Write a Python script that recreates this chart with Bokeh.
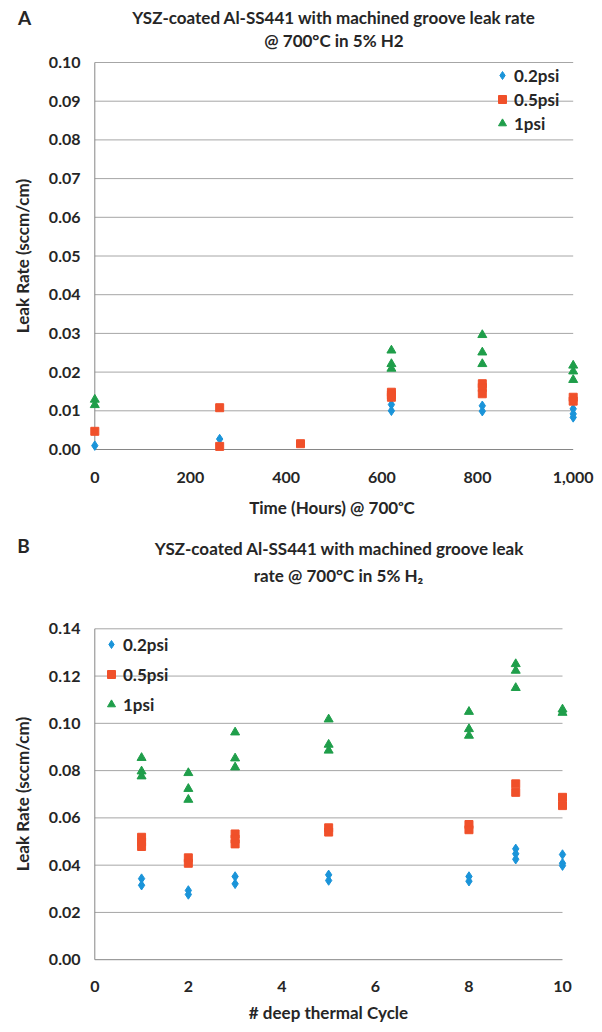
from bokeh.plotting import figure
from bokeh.models import (Range1d, FixedTicker, NumeralTickFormatter, Legend,
                          LegendItem)
from bokeh.core.properties import value
from bokeh.layouts import column
from bokeh.embed import file_html
from bokeh.resources import INLINE

# ---------------- data : panel A ----------------
a_time_02 = [0, 261, 620, 620, 810, 810, 1000, 1000, 1000]
a_rate_02 = [0.0010, 0.0027, 0.0116, 0.0100, 0.0113, 0.0099, 0.0105, 0.0092, 0.0083]
a_time_05 = [0, 261, 261, 430, 620, 620, 620, 810, 810, 810, 1000, 1000]
a_rate_05 = [0.0047, 0.0108, 0.0008, 0.0015, 0.0148, 0.0141, 0.0135, 0.0170, 0.0160, 0.0144, 0.0135, 0.0125]
a_time_1 = [0, 0, 620, 620, 620, 810, 810, 810, 1000, 1000, 1000]
a_rate_1 = [0.0129, 0.0115, 0.0256, 0.0221, 0.0209, 0.0296, 0.0251, 0.0221, 0.0217, 0.0202, 0.0180]
a_xticks = [0, 200, 400, 600, 800, 1000]
a_yticks = [0.00, 0.01, 0.02, 0.03, 0.04, 0.05, 0.06, 0.07, 0.08, 0.09, 0.10]

# ---------------- data : panel B ----------------
b_cyc_02 = [1, 1, 2, 2, 3, 3, 5, 5, 8, 8, 9, 9, 9, 10, 10, 10]
b_rate_02 = [0.0343, 0.0315, 0.0293, 0.0276, 0.0352, 0.0321, 0.0359, 0.0335, 0.0352, 0.0332,
             0.0469, 0.0448, 0.0425, 0.0445, 0.0408, 0.0398]
b_cyc_05 = [1, 1, 1, 2, 2, 3, 3, 3, 5, 5, 8, 8, 9, 9, 10, 10]
b_rate_05 = [0.0518, 0.0498, 0.0479, 0.0431, 0.0408, 0.0532, 0.0510, 0.0490, 0.0558, 0.0540,
             0.0572, 0.0550, 0.0744, 0.0708, 0.0687, 0.0652]
b_cyc_1 = [1, 1, 1, 2, 2, 2, 3, 3, 3, 5, 5, 5, 8, 8, 8, 9, 9, 9, 10, 10]
b_rate_1 = [0.0854, 0.0797, 0.0776, 0.0790, 0.0723, 0.0677, 0.0962, 0.0852, 0.0814, 0.1017,
            0.0910, 0.0885, 0.1049, 0.0976, 0.0948, 0.1251, 0.1223, 0.1150, 0.1059, 0.1045]
b_xticks = [0, 2, 4, 6, 8, 10]
b_yticks = [0.00, 0.02, 0.04, 0.06, 0.08, 0.10, 0.12, 0.14]

series_labels = ["0.2psi", "0.5psi", "1psi"]

a_title = ["YSZ-coated Al-SS441 with machined groove leak rate", "@ 700\u00b0C in 5% H2"]
b_title = ["YSZ-coated Al-SS441 with machined groove leak", "rate @ 700\u00b0C in 5% H\u2082"]

# ---------------- style ----------------
FONT = "Lato"
TXT = "#262626"
GRID = "#a6a6a6"
AXIS = "#868686"
C_BLUE = "#1a94d9"
C_RED = "#f0502a"
C_GREEN = "#1f9e4a"
FIG_W = 600


def no_align(p):
    try:
        p.frame_align = False
    except Exception:
        pass


def header(h, lines, line_xy, letter, letter_xy):
    p = figure(width=FIG_W, height=h, x_range=Range1d(0, FIG_W), y_range=Range1d(0, h),
               output_backend="svg", toolbar_location=None,
               x_axis_location=None, y_axis_location=None, min_border=0)
    no_align(p)
    p.outline_line_color = None
    p.xgrid.visible = False
    p.ygrid.visible = False
    p.text(x=[xy[0] for xy in line_xy], y=[h - xy[1] for xy in line_xy], text=lines,
           text_font=value(FONT), text_font_style="bold", text_font_size="17px",
           text_color=TXT, text_align="center", text_baseline="middle")
    p.text(x=[letter_xy[0]], y=[h - letter_xy[1]], text=[letter],
           text_font=value(FONT), text_font_style="bold", text_font_size="19px",
           text_color=TXT, text_align="center", text_baseline="middle")
    return p


def build(xs, ys, xticks, yticks, xfmt, xlab, ylab,
          fig_h, frame_l, frame_r, frame_t, frame_b, px_x0, px_x1, px_y0, px_y1,
          xtick_standoff, xlab_standoff, ylab_standoff, leg_loc, leg_row_h):
    xmin, xmax = xticks[0], xticks[-1]
    ymin, ymax = yticks[0], yticks[-1]
    sx = (px_x1 - px_x0) / (xmax - xmin)
    sy = (px_y0 - px_y1) / (ymax - ymin)
    xr = Range1d(xmin - (px_x0 - frame_l) / sx, xmax + (frame_r - px_x1) / sx)
    yr = Range1d(ymin - (frame_b - px_y0) / sy, ymax + (px_y1 - frame_t) / sy)

    p = figure(width=FIG_W, height=fig_h, x_range=xr, y_range=yr,
               output_backend="svg", toolbar_location=None,
               min_border_left=frame_l, min_border_right=FIG_W - frame_r,
               min_border_top=frame_t, min_border_bottom=fig_h - frame_b)
    no_align(p)
    p.outline_line_color = None
    p.xgrid.visible = False
    p.ygrid.visible = False

    p.segment(x0=[xmin] * (len(yticks) - 1), x1=[xmax] * (len(yticks) - 1),
              y0=yticks[1:], y1=yticks[1:], line_color=GRID, line_width=1)
    p.segment(x0=[xmin, xmin], x1=[xmax, xmin], y0=[ymin, ymin], y1=[ymin, ymax],
              line_color=AXIS, line_width=1)

    markers = ["diamond", "square", "triangle"]
    colors = [C_BLUE, C_RED, C_GREEN]
    sizes = [9.5, 8, 9]
    rends = []
    for (x, y), m, c, s in zip(zip(xs, ys), markers, colors, sizes):
        r = p.scatter(x, y, marker=m, size=s, fill_color=c, line_color=c, line_width=1)
        rends.append(r)

    for ax in (p.xaxis[0], p.yaxis[0]):
        ax.axis_line_color = None
        ax.major_tick_line_color = None
        ax.minor_tick_line_color = None
        ax.major_tick_out = 0
        ax.major_tick_in = 0
        ax.major_label_text_font = FONT
        ax.major_label_text_font_style = "bold"
        ax.major_label_text_font_size = "16px"
        ax.major_label_text_color = TXT
        ax.axis_label_text_font = FONT
        ax.axis_label_text_font_style = "bold"
        ax.axis_label_text_font_size = "17px"
        ax.axis_label_text_color = TXT

    p.xaxis[0].ticker = FixedTicker(ticks=xticks)
    p.xaxis[0].formatter = NumeralTickFormatter(format=xfmt)
    p.xaxis[0].major_label_standoff = xtick_standoff
    p.xaxis[0].axis_label = xlab
    p.xaxis[0].axis_label_standoff = xlab_standoff

    p.yaxis[0].ticker = FixedTicker(ticks=yticks)
    p.yaxis[0].formatter = NumeralTickFormatter(format="0.00")
    p.yaxis[0].major_label_standoff = 8
    p.yaxis[0].axis_label = ylab
    p.yaxis[0].axis_label_standoff = ylab_standoff

    items = [LegendItem(label=l, renderers=[r]) for l, r in zip(series_labels, rends)]
    leg = Legend(items=items, location=leg_loc, padding=0, margin=0, spacing=0,
                 glyph_width=20, glyph_height=20, label_height=leg_row_h,
                 label_standoff=2, border_line_color=None, background_fill_alpha=0,
                 label_text_font=FONT, label_text_font_style="bold",
                 label_text_font_size="17px", label_text_color=TXT)
    p.add_layout(leg)
    return p


# page layout (body margin is 0): header A 0..52, plot A 52..525,
# header B 525..615, plot B 615..1030
hA = header(52, a_title, [(333.5, 17), (333.5, 40)], "A", (24, 17))
pA = build([a_time_02, a_time_05, a_time_1], [a_rate_02, a_rate_05, a_rate_1],
           a_xticks, a_yticks, "0,0", "Time  (Hours) @ 700\u1d52C", "Leak Rate (sccm/cm)",
           fig_h=473, frame_l=88, frame_r=579, frame_t=6, frame_b=401,
           px_x0=94.3, px_x1=572.7, px_y0=397, px_y1=10,
           xtick_standoff=18, xlab_standoff=11, ylab_standoff=13,
           leg_loc=(404, 318), leg_row_h=24)

hB = header(90, b_title, [(339, 23), (338, 50)], "B", (23, 20))
pB = build([b_cyc_02, b_cyc_05, b_cyc_1], [b_rate_02, b_rate_05, b_rate_1],
           b_xticks, b_yticks, "0", "# deep thermal Cycle", "Leak Rate (sccm/cm)",
           fig_h=415, frame_l=88, frame_r=568, frame_t=9, frame_b=348,
           px_x0=94.3, px_x1=562, px_y0=344.2, px_y1=13.3,
           xtick_standoff=17, xlab_standoff=7, ylab_standoff=13,
           leg_loc=(13, 244), leg_row_h=30)

layout = column(hA, pA, hB, pB, spacing=0)
open("out.html", "w").write(file_html(layout, INLINE))
